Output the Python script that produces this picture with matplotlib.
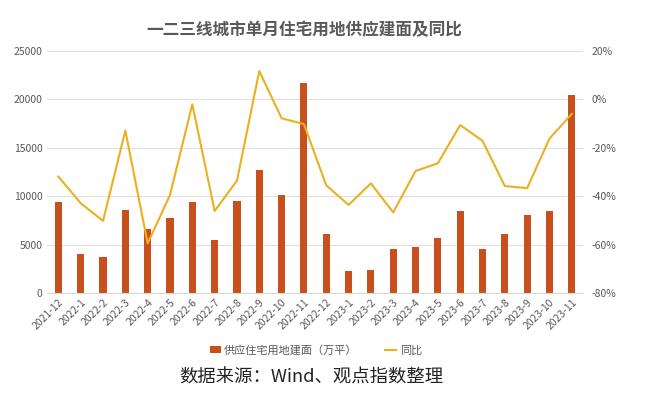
import matplotlib.pyplot as plt
import numpy as np

plt.rcParams['font.family'] = ['Noto Sans CJK SC', 'DejaVu Sans']

months = ["2021-12", "2022-1", "2022-2", "2022-3", "2022-4", "2022-5", "2022-6",
          "2022-7", "2022-8", "2022-9", "2022-10", "2022-11", "2022-12",
          "2023-1", "2023-2", "2023-3", "2023-4", "2023-5", "2023-6",
          "2023-7", "2023-8", "2023-9", "2023-10", "2023-11"]
supply = [9430, 4060, 3690, 8540, 6640, 7720, 9430, 5480, 9500, 12710, 10090, 21730,
          6100, 2270, 2410, 4550, 4720, 5680, 8470, 4510, 6100, 8030, 8470, 20460]
yoy = [-31.9, -42.9, -50.2, -12.9, -59.5, -39.5, -2.0, -46.1, -33.6, 11.7, -7.8, -10.2,
       -35.5, -43.6, -34.7, -46.7, -29.6, -26.4, -10.6, -17.1, -35.8, -36.7, -16.2, -6.0]

bar_color = "#C8501C"
line_color = "#EBB020"
grey = "#595959"

fig = plt.figure(figsize=(6.47, 3.97), dpi=100)
ax = fig.add_axes([0.073, 0.262, 0.828, 0.6095])
x = np.arange(len(months))
ax.bar(x, supply, width=0.32, color=bar_color, label="供应住宅用地建面（万平）", zorder=2)
ax.set_ylim(0, 25000)
ax.set_yticks(range(0, 25001, 5000))
ax.set_xlim(-0.5, len(months) - 0.5)
ax.set_xticks(x)
ax.set_xticklabels(months, rotation=45, ha="right", rotation_mode="anchor")
ax.grid(axis="y", color="#E0E0E0", linewidth=0.8, zorder=0)
ax.set_axisbelow(True)
for s in ax.spines.values():
    s.set_visible(False)
ax.spines["bottom"].set_visible(True)
ax.spines["bottom"].set_color("#D9D9D9")
ax.tick_params(length=0, labelsize=7.5, colors=grey)
ax.tick_params(axis="x", pad=3)

ax2 = ax.twinx()
ax2.plot(x, yoy, color=line_color, linewidth=1.5, label="同比", zorder=3)
ax2.set_ylim(-80, 20)
ax2.set_yticks(range(-80, 21, 20))
ax2.set_yticklabels([f"{v}%" for v in range(-80, 21, 20)])
for s in ax2.spines.values():
    s.set_visible(False)
ax2.tick_params(length=0, labelsize=7.5, colors=grey, pad=6)

fig.text(0.471, 0.925, "一二三线城市单月住宅用地供应建面及同比", ha="center", va="center",
         fontsize=12, fontweight="bold", color=grey)

h1, l1 = ax.get_legend_handles_labels()
h2, l2 = ax2.get_legend_handles_labels()
fig.legend(h1 + h2, l1 + l2, loc="center", bbox_to_anchor=(0.488, 0.118), ncol=2,
           frameon=False, fontsize=8, labelcolor=grey, handlelength=1.0,
           handleheight=0.5, columnspacing=2.5, handletextpad=0.3)

fig.text(0.481, 0.048, "数据来源：Wind、观点指数整理", ha="center", va="center",
         fontsize=13.2, color="#222222")

fig.savefig("out.png", dpi=100)
